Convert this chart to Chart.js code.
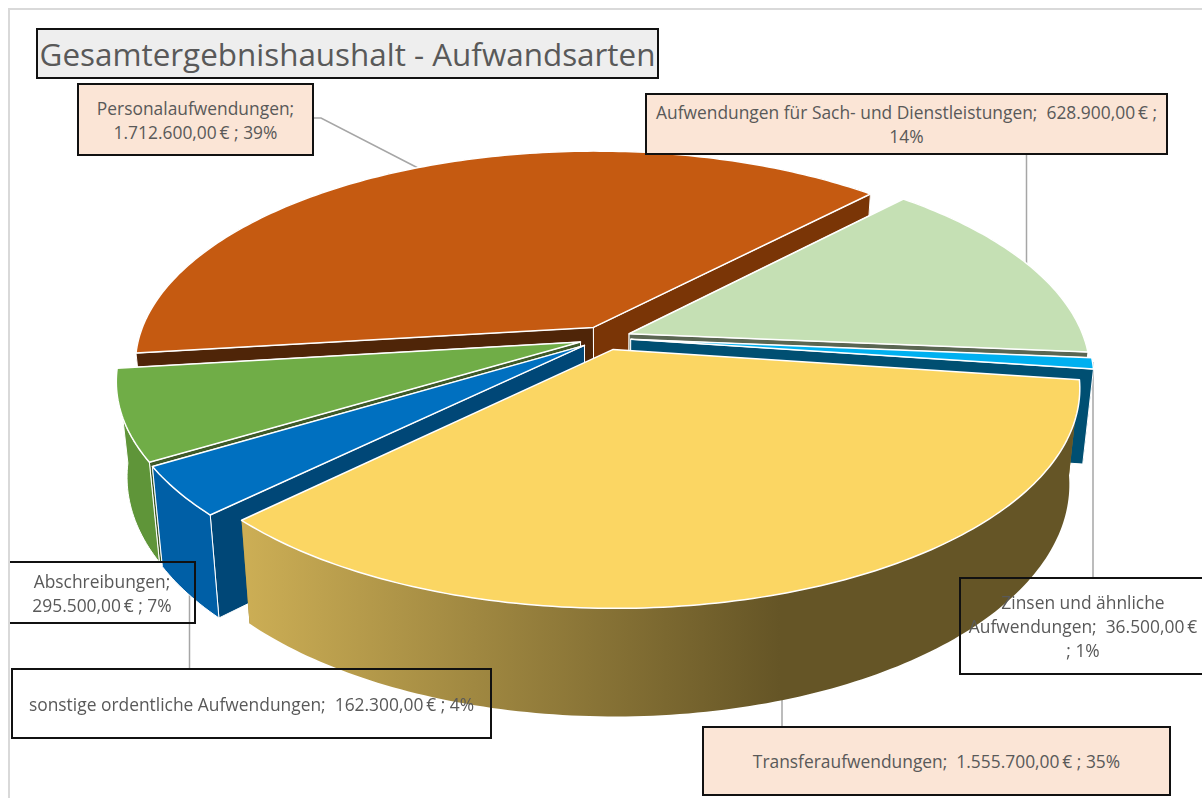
<!DOCTYPE html>
<html lang="de">
<head>
  <meta charset="UTF-8">
  <title>Gesamtergebnishaushalt - Aufwandsarten</title>
  <script src="https://cdn.jsdelivr.net/npm/chart.js"></script>
  <style>
    html, body { margin: 0; padding: 0; background: #fff; overflow: hidden; }
    #page { position: relative; width: 1202px; height: 798px; overflow: hidden; font-family: 'Open Sans', sans-serif; }
    #frame { position: absolute; left: 8px; top: 8px; right: -5px; bottom: -5px; border-left: 2px solid #d9d9d9; border-top: 2px solid #d9d9d9; }
    canvas { position: absolute; left: 0; top: 0; }
    .box { position: absolute; box-sizing: border-box; border: 2px solid #111; color: #595959; font-size: 17.4px; line-height: 24px; text-align: center; display: flex; align-items: center; justify-content: center; white-space: pre; }
    #title { position: absolute; box-sizing: border-box; left: 36px; top: 28px; width: 623px; height: 51px; background: #eeeeee; border: 2px solid #111; color: #595959; font-size: 31.4px; line-height: 47px; text-align: center; white-space: nowrap; }
  </style>
</head>
<body>
  <div id="page">
    <div id="frame"></div>
    <canvas id="pie" width="1202" height="798"></canvas>
    <div id="title">Gesamtergebnishaushalt - Aufwandsarten</div>
  </div>

  <script>
    // Data
    const categories = ['Personalaufwendungen', 'Aufwendungen für Sach- und Dienstleistungen', 'Zinsen und ähnliche Aufwendungen', 'Transferaufwendungen', 'sonstige ordentliche Aufwendungen', 'Abschreibungen'];
    const amounts = [1712600, 628900, 36500, 1555700, 162300, 295500];

    // Slice colours
    const topColors = ['#c55a11', '#c5e0b4', '#00b0f0', '#fbd663', '#0070c0', '#70ad47'];
    const startWallColors = ['#4f2508', '#5a6652', '#004f72', '#8a7530', '#004777', '#3e5a28'];
    const endWallColors = ['#7a3506', '#5a6652', '#004f72', '#8a7530', '#005a9e', '#5f9539'];
    const outerWallColors = ['#7a3506', '#8fa881', '#004f72', null, '#005fa6', '#5f9539'];
    const paintOrder = [0, 1, 2, 5, 4, 3];

    // Tilted disc: perspective projection of the pie plane
    const CX = 605, CY = 338, RX = 455, RY = 210, K = 0.172;
    const project = (u, v) => {
      const w = 1 - K * v;
      return [CX + RX * u / w, CY + RY * v / w];
    };
    const lower = ([x, y]) => [CX + 0.978 * (x - CX), y + 95 + (y - 370) * 0.055];

    // Labels and leader lines
    const labelBoxes = [
      { i: 0, x: 77, y: 83, w: 237, h: 73, fill: '#fbe5d6', lines: ['name;', 'value'] },
      { i: 1, x: 645, y: 93, w: 523, h: 62, fill: '#fbe5d6', lines: ['name;  amount ;', 'pct'] },
      { i: 2, x: 959, y: 577, w: 260, h: 98, fill: 'transparent', shift: -6, lines: ['Zinsen und ähnliche', 'Aufwendungen;  amount', '; pct'] },
      { i: 3, x: 702, y: 726, w: 469, h: 70, fill: '#fbe5d6', lines: ['name;  value'] },
      { i: 4, x: 11, y: 668, w: 481, h: 71, fill: 'transparent', lines: ['name;  value'] },
      { i: 5, x: 10, y: 561, w: 186, h: 63, fill: 'transparent', noLeft: true, lines: ['name;', 'value'] }
    ];
    const leaderLines = [
      [[313, 118], [321, 118], [418, 168]],
      [[1026.5, 154], [1026.5, 270]],
      [[1093, 362], [1093, 577]],
      [[782, 690], [782, 726]],
      [[189.5, 570], [189.5, 668]]
    ];

    const total = amounts.reduce((a, b) => a + b, 0);
    const euro = n => n.toLocaleString('de-DE', { minimumFractionDigits: 2, maximumFractionDigits: 2 }) + '\u2009€';
    const page = document.getElementById('page');
    labelBoxes.forEach(b => {
      const pct = Math.round(amounts[b.i] / total * 100) + '%';
      const div = document.createElement('div');
      div.className = 'box';
      div.style.cssText = `left:${b.x}px;top:${b.y}px;width:${b.w}px;height:${b.h}px;background:${b.fill}`;
      if (b.noLeft) div.style.borderLeft = 'none';
      const inner = document.createElement('div');
      if (b.shift) inner.style.transform = `translateX(${b.shift}px)`;
      b.lines.forEach(line => {
        const row = document.createElement('div');
        row.textContent = line
          .replace('name', categories[b.i])
          .replace('value', euro(amounts[b.i]) + ' ; ' + pct)
          .replace('amount', euro(amounts[b.i]))
          .replace('pct', pct);
        inner.appendChild(row);
      });
      div.appendChild(inner);
      page.appendChild(div);
    });

    const fillPoly = (ctx, pts, fill, edge) => {
      ctx.beginPath();
      pts.forEach((p, n) => n ? ctx.lineTo(p[0], p[1]) : ctx.moveTo(p[0], p[1]));
      ctx.closePath();
      ctx.fillStyle = fill;
      ctx.fill();
      if (edge) {
        ctx.lineWidth = edge;
        ctx.strokeStyle = '#ffffff';
        ctx.lineJoin = 'round';
        ctx.stroke();
      }
    };

    // Draws the arcs the library laid out as exploded 3D slices
    const pie3d = {
      id: 'pie3d',
      beforeDatasetDraw(chart) {
        const ctx = chart.ctx;
        const arcs = chart.getDatasetMeta(0).data;

        ctx.save();
        ctx.strokeStyle = '#a6a6a6';
        ctx.lineWidth = 1.5;
        leaderLines.forEach(line => {
          ctx.beginPath();
          line.forEach((p, n) => n ? ctx.lineTo(p[0], p[1]) : ctx.moveTo(p[0], p[1]));
          ctx.stroke();
        });

        paintOrder.forEach(i => {
          const arc = arcs[i];
          const mid = (arc.startAngle + arc.endAngle) / 2;
          const d = arc.options.offset / arc.outerRadius;
          const ou = d * Math.cos(mid), ov = d * Math.sin(mid);
          const apex = project(ou, ov);
          const rim = [];
          const steps = Math.ceil((arc.endAngle - arc.startAngle) * 60);
          for (let s = 0; s <= steps; s++) {
            const a = arc.startAngle + (arc.endAngle - arc.startAngle) * s / steps;
            rim.push(project(ou + Math.cos(a), ov + Math.sin(a)));
          }
          const first = rim[0], last = rim[rim.length - 1];

          let wall = outerWallColors[i];
          if (!wall) {
            wall = ctx.createLinearGradient(245, 0, 780, 0);
            wall.addColorStop(0, '#ccae55');
            wall.addColorStop(1, '#655526');
          }
          const outer = rim.concat(rim.map(lower).reverse());
          const endFace = [apex, last, lower(last), lower(apex)];
          const startFace = [apex, first, lower(first), lower(apex)];
          const rear = Math.sin(mid) < 0.15;
          const edge = i === 3 ? 0 : 1;

          // rear slices hide their outer wall behind the cut faces
          if (rear) {
            fillPoly(ctx, outer, wall, 0);
            fillPoly(ctx, startFace, startWallColors[i], 1);
            fillPoly(ctx, endFace, endWallColors[i], 1);
          } else {
            fillPoly(ctx, endFace, endWallColors[i], edge);
            fillPoly(ctx, startFace, startWallColors[i], edge);
            fillPoly(ctx, outer, wall, edge);
          }
          fillPoly(ctx, [apex].concat(rim), arc.options.backgroundColor, 1.5);
        });
        ctx.restore();
        return false;
      }
    };

    new Chart(document.getElementById('pie').getContext('2d'), {
      type: 'pie',
      data: {
        labels: categories,
        datasets: [{
          data: amounts,
          backgroundColor: topColors,
          offset: 22
        }]
      },
      options: {
        responsive: false,
        animation: false,
        events: [],
        rotation: 263,
        plugins: {
          legend: { display: false },
          tooltip: { enabled: false },
          title: { display: false }
        }
      },
      plugins: [pie3d]
    });
  </script>
</body>
</html>
